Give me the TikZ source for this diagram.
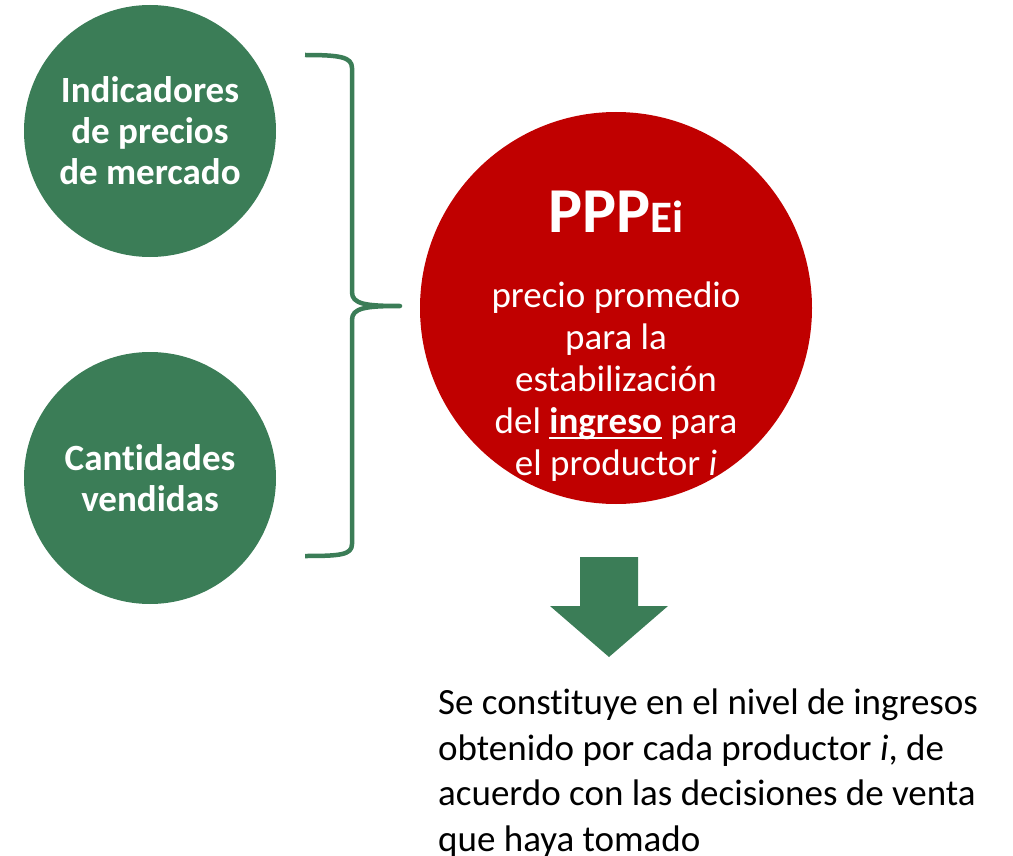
\documentclass[tikz,border=0pt]{standalone}
\usepackage{fontspec}
\setmainfont[Ligatures=NoCommon]{Carlito}
\definecolor{dgreen}{RGB}{59,125,87}
\definecolor{dred}{RGB}{192,0,0}
\newsavebox\myulbox
\newcommand\myul[1]{\sbox\myulbox{#1}\rlap{\rule[-5pt]{\wd\myulbox}{2.2pt}}\usebox\myulbox}
\tikzset{
  gcirc/.style={circle, fill=dgreen, minimum size=252pt, inner sep=0pt, text=white, align=center, font=\fontsize{37}{41}\selectfont\bfseries},
  rcirc/.style={circle, fill=dred, minimum size=392pt, inner sep=0pt},
  wtext/.style={text=white, align=center, inner sep=0pt},
  bracestyle/.style={draw=dgreen, line width=4.5pt, line cap=butt, line join=round},
  arrowshape/.style={fill=dgreen, draw=none}
}
\begin{document}
\begin{tikzpicture}[x=1pt,y=-1pt]
\useasboundingbox (0,0) rectangle (1013,856);
\node[gcirc] (ind) at (150,131) {Indicadores\\de precios\\de mercado};
\node[gcirc] (cant) at (150,478) {Cantidades\\vendidas};
\node[rcirc] (ppp) at (616,308) {};
\node[wtext, anchor=base, font=\bfseries] (title) at (616,233) {\fontsize{64}{64}\selectfont PPP{\fontsize{45}{45}\selectfont Ei}};
\node[wtext, font=\fontsize{37}{42}\selectfont] (body) at (616,382) {precio promedio\\para la\\estabilización\\del \myul{\bfseries ingreso} para\\el productor \textit{i}};
\coordinate (btop) at (305,55);
\coordinate (bbot) at (305,556);
\coordinate (btip) at (400,306);
\draw[bracestyle] (btop) .. controls (340,55) and (352,57) .. (352,68)
  -- (352,292) .. controls (352,304) and (365,306) .. (btip)
  .. controls (365,306) and (352,308) .. (352,320)
  -- (352,544) .. controls (352,555) and (340,556) .. (bbot);
\fill[arrowshape] (580,557) -- (638,557) -- (638,606) -- (668,606) -- (609,657) -- (550,606) -- (580,606) -- cycle;
\node[inner sep=0pt, anchor=north west, align=left, font=\fontsize{37}{45.5}\selectfont] (note) at (438,689) {Se constituye en el nivel de ingresos\\obtenido por cada productor \textit{i}, de\\acuerdo con las decisiones de venta\\que haya tomado};
\end{tikzpicture}
\end{document}
